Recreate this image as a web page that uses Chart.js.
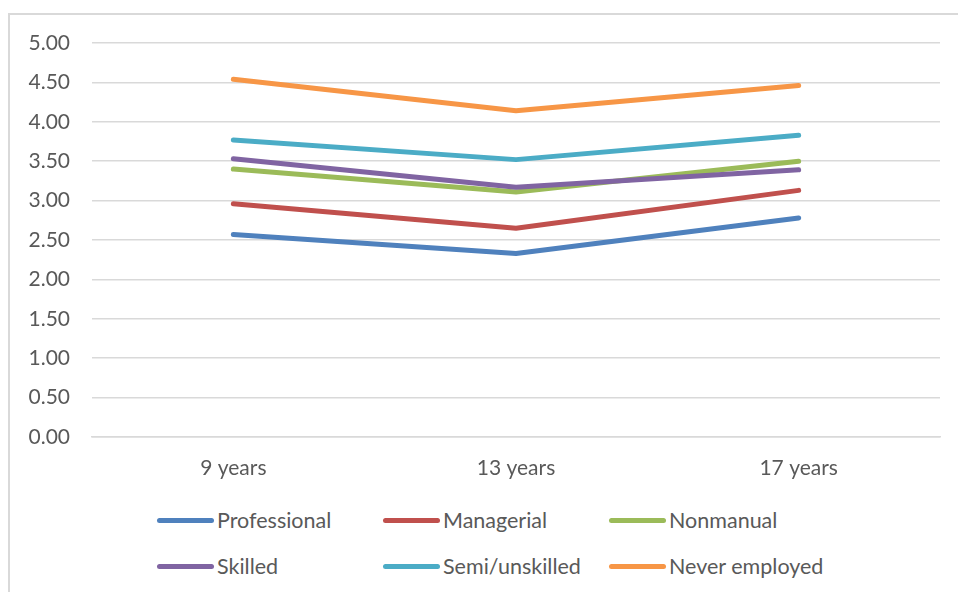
<!DOCTYPE html>
<html>
<head>
<meta charset="utf-8">
<script src="https://cdn.jsdelivr.net/npm/chart.js@4"></script>
<style>
  html, body { margin: 0; padding: 0; background: #fff; }
  body { width: 958px; height: 592px; position: relative; overflow: hidden; font-family: Lato, "Open Sans", sans-serif; }
  #frame { position: absolute; left: 8px; top: 13px; width: 960px; height: 600px; border-top: 2px solid #d9d9d9; border-left: 2px solid #d9d9d9; box-sizing: border-box; }
  #wrap { position: absolute; left: 0; top: 0; width: 958px; height: 500px; }
  #legend { position: absolute; left: 157px; top: 507px; display: grid; grid-template-columns: 226px 226px 260px; row-gap: 20px; }
  .item { display: flex; align-items: center; height: 26px; font-size: 21.5px; color: #595959; white-space: nowrap; }
  .swatch { width: 57px; height: 5px; border-radius: 3px; margin-right: 3px; }
</style>
</head>
<body>
<div id="frame"></div>
<div id="wrap"><canvas id="myChart" width="958" height="500"></canvas></div>
<div id="legend"></div>
<script>
document.addEventListener('DOMContentLoaded', function() {
    const categories = ['9 years', '13 years', '17 years'];

    const professional  = [2.57, 2.33, 2.78];
    const managerial    = [2.96, 2.65, 3.13];
    const nonmanual     = [3.40, 3.11, 3.50];
    const skilled       = [3.53, 3.17, 3.39];
    const semiUnskilled = [3.77, 3.52, 3.83];
    const neverEmployed = [4.54, 4.14, 4.46];

    const yMin = 0, yMax = 5, yStep = 0.5;

    const seriesNames  = ['Professional', 'Managerial', 'Nonmanual', 'Skilled', 'Semi/unskilled', 'Never employed'];
    const seriesValues = [professional, managerial, nonmanual, skilled, semiUnskilled, neverEmployed];
    const seriesColors = ['#4F81BD', '#C0504D', '#9BBB59', '#8064A2', '#4BACC6', '#F79646'];

    const datasets = seriesNames.map((name, i) => ({
        label: name,
        data: seriesValues[i],
        borderColor: seriesColors[i],
        backgroundColor: seriesColors[i],
        borderWidth: 5,
        borderCapStyle: 'round',
        borderJoinStyle: 'round',
        pointRadius: 0,
        tension: 0,
        fill: false,
        order: seriesNames.length - i, // later series on top, like the original
    }));

    const font = { family: 'Lato, "Open Sans", sans-serif', size: 21 };

    const config = {
        type: 'line',
        data: { labels: categories, datasets: datasets },
        options: {
            responsive: false,
            animation: false,
            layout: { padding: { top: 43, right: 18, left: 0, bottom: 0 } },
            plugins: {
                legend: { display: false },
                tooltip: { enabled: false },
            },
            scales: {
                x: {
                    offset: true,
                    grid: { display: false, drawTicks: false, offset: true },
                    border: { display: true, color: '#d9d9d9', width: 1.5 },
                    ticks: { color: '#595959', font: font, padding: 19, maxRotation: 0 },
                    afterFit: (scale) => { scale.height = 63; },
                },
                y: {
                    min: yMin,
                    max: yMax,
                    grid: { color: '#d9d9d9', lineWidth: 1.5, drawTicks: false },
                    border: { display: false },
                    ticks: {
                        stepSize: yStep,
                        color: '#595959',
                        font: font,
                        padding: 22,
                        callback: (v) => Number(v).toFixed(2),
                    },
                    afterFit: (scale) => { scale.width = 92; },
                },
            },
        },
    };

    const myChart = new Chart(document.getElementById('myChart'), config);

    // legend in two rows of three, like the Excel one
    const legend = document.getElementById('legend');
    myChart.data.datasets.forEach((ds) => {
        const item = document.createElement('div');
        item.className = 'item';
        const sw = document.createElement('span');
        sw.className = 'swatch';
        sw.style.background = ds.borderColor;
        item.appendChild(sw);
        item.appendChild(document.createTextNode(ds.label));
        legend.appendChild(item);
    });
});
</script>
</body>
</html>
